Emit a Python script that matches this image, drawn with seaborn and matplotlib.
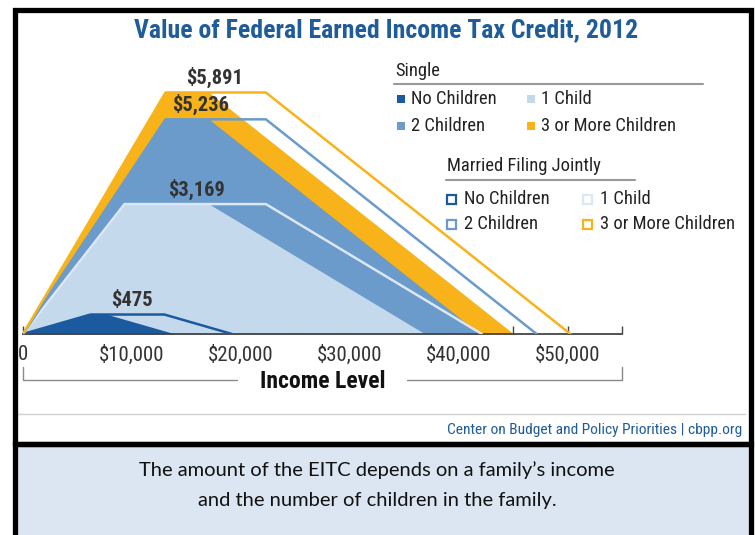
import numpy as np
import pandas as pd
import seaborn as sns
import matplotlib.pyplot as plt
from matplotlib.patches import Rectangle
from matplotlib.lines import Line2D

# ---------------- data (2012 EITC schedule) ----------------
groups = ["No Children", "1 Child", "2 Children", "3 or More Children"]
credit = [0, 475, 475, 0, 0, 3169, 3169, 0, 0, 5236, 5236, 0, 0, 5891, 5891, 0]

single_income = [0, 6200, 7770, 13980,
                 0, 9320, 17090, 36920,
                 0, 13090, 17090, 41952,
                 0, 13090, 17090, 45060]
married_income = [0, 6200, 12980, 19190,
                  0, 9320, 22300, 42130,
                  0, 13090, 22300, 47162,
                  0, 13090, 22300, 50270]
max_credit = [475, 3169, 5236, 5891]
tick_labels = ["0", "$10,000", "$20,000", "$30,000", "$40,000", "$50,000"]

fill_colors = ["#1b5a9e", "#c5d9ec", "#6b9bcb", "#f7b319"]
line_colors = ["#1b5a9e", "#dbe7f4", "#6b9bcb", "#f7b319"]

df = pd.DataFrame({
    "group": np.repeat(groups, 4),
    "credit": credit,
    "single": single_income,
    "married": married_income,
})

W, H = 755, 535
def fx(px): return px / W
def fy(py): return 1 - py / H

sns.set_theme(style="white")
plt.rcParams["font.family"] = ["Roboto Condensed", "Roboto", "DejaVu Sans"]

fig = plt.figure(figsize=(W / 100, H / 100), dpi=100)
fig.patch.set_facecolor("white")
renderer = fig.canvas.get_renderer()

# the reference uses a condensed face; pick sizes that give the same widths
def size_for(s, px, **kw):
    t = fig.text(0, 0, s, fontsize=20, **kw)
    w = t.get_window_extent(renderer).width
    t.remove()
    return 20 * px / w

# axes: x 0..55000 -> px 23..622, y 0..6500 -> px 334..67.5
ax = fig.add_axes([fx(23), fy(334), fx(622) - fx(23), fy(67.5) - fy(334)])
ax.set_facecolor("none")

# single filers: filled areas, largest first
for g in groups[::-1]:
    d = df[df.group == g]
    ax.fill_between(d["single"], d["credit"], 0,
                    color=fill_colors[groups.index(g)], lw=0, zorder=1)

# married filers: outlines
sns.lineplot(data=df, x="married", y="credit", hue="group", hue_order=groups,
             palette=line_colors, sort=False, estimator=None, lw=1.8,
             legend=False, ax=ax, zorder=3)

val_size = size_for("$5,891", 57, fontweight="bold")
label_x = [10000, 15900, 16300, 17600]
for xv, v in zip(label_x, max_credit):
    ax.annotate(f"${v:,}", xy=(xv, v), xytext=(0, 3), textcoords="offset points",
                ha="center", va="bottom", fontsize=val_size, fontweight="bold",
                color="#333333", zorder=5)

ax.set_xlim(0, 55000)
ax.set_ylim(0, 6500)
ax.set_yticks([])
ax.set_xticks(np.arange(0, 50001, 10000))
ax.set_xticklabels(tick_labels)
ax.set_xticks(np.arange(0, 55001, 5000), minor=True)
ax.tick_params(axis="x", which="both", direction="in", length=6, width=1,
               color="#444444", bottom=True, pad=8)
ax.tick_params(axis="x", which="major", labelsize=size_for("$10,000", 66),
               labelcolor="#333333")
for s in ["left", "top", "right"]:
    ax.spines[s].set_visible(False)
ax.spines["bottom"].set_color("#444444")
ax.spines["bottom"].set_linewidth(1.3)
ax.set_xlabel("")
ax.set_ylabel("")

# bracket under the axis with "Income Level"
bc = "#8a8a8a"
for xs, ys in [([23, 23, 237], [367, 380, 380]), ([407, 622, 622], [380, 380, 367])]:
    fig.add_artist(Line2D([fx(x) for x in xs], [fy(y) for y in ys], color=bc, lw=1))
fig.text(fx(323), fy(382), "Income Level", ha="center", va="center",
         fontsize=size_for("Income Level", 125, fontweight="bold"),
         fontweight="bold", color="#111111")

# title
title = "Value of Federal Earned Income Tax Credit, 2012"
fig.text(fx(386), fy(30), title, ha="center", va="center",
         fontsize=size_for(title, 502, fontweight="bold"),
         fontweight="bold", color="#1f5c99")

# legend (manual layout)
tc = "#222222"
leg_size = size_for("3 or More Children", 134)
fig.text(fx(395), fy(71), "Single", ha="left", va="center", fontsize=leg_size, color=tc)
fig.add_artist(Line2D([fx(394), fx(703)], [fy(84), fy(84)], color="#999999", lw=1.5))
single_pos = [(397, 99), (527, 99), (397, 126), (527, 126)]
for g, (px, py) in zip(groups, single_pos):
    fig.add_artist(Rectangle((fx(px), fy(py + 4)), fx(8), 8 / H,
                             facecolor=fill_colors[groups.index(g)], lw=0))
    fig.text(fx(px + 14), fy(py), g, ha="left", va="center", fontsize=leg_size, color=tc)

fig.text(fx(447), fy(166), "Married Filing Jointly", ha="left", va="center",
         fontsize=leg_size, color=tc)
fig.add_artist(Line2D([fx(446), fx(635)], [fy(180), fy(180)], color="#999999", lw=1.5))
married_pos = [(447, 199), (583, 199), (447, 224), (583, 224)]
for g, (px, py) in zip(groups, married_pos):
    fig.add_artist(Rectangle((fx(px), fy(py + 4.5)), fx(9), 9 / H, facecolor="white",
                             edgecolor=line_colors[groups.index(g)], lw=1.6))
    fig.text(fx(px + 17), fy(py), g, ha="left", va="center", fontsize=leg_size, color=tc)

# source line
src = "Center on Budget and Policy Priorities | cbpp.org"
fig.add_artist(Line2D([fx(17), fx(745)], [fy(414), fy(414)], color="#d0d0d0", lw=1))
fig.text(fx(742), fy(430), src, ha="right", va="center",
         fontsize=size_for(src, 295), color="#1f5c99")

# frames
fig.add_artist(Rectangle((fx(14.5), fy(443.5)), fx(736), 434 / H, fill=False,
                         edgecolor="black", lw=3.8, zorder=10))
fig.add_artist(Rectangle((fx(14.5), fy(560)), fx(736), 116.5 / H,
                         facecolor="#dce6f2", edgecolor="black", lw=3.8, zorder=9))
line1 = "The amount of the EITC depends on a family\u2019s income"
cap_size = size_for(line1, 478, family=["Lato", "DejaVu Sans"])
fig.text(fx(377), fy(485),
         line1 + "\nand the number of children in the family.",
         ha="center", va="center", fontsize=cap_size, color="#111111",
         family=["Lato", "DejaVu Sans"], linespacing=1.9, zorder=11)

fig.savefig("out.png", dpi=100)
